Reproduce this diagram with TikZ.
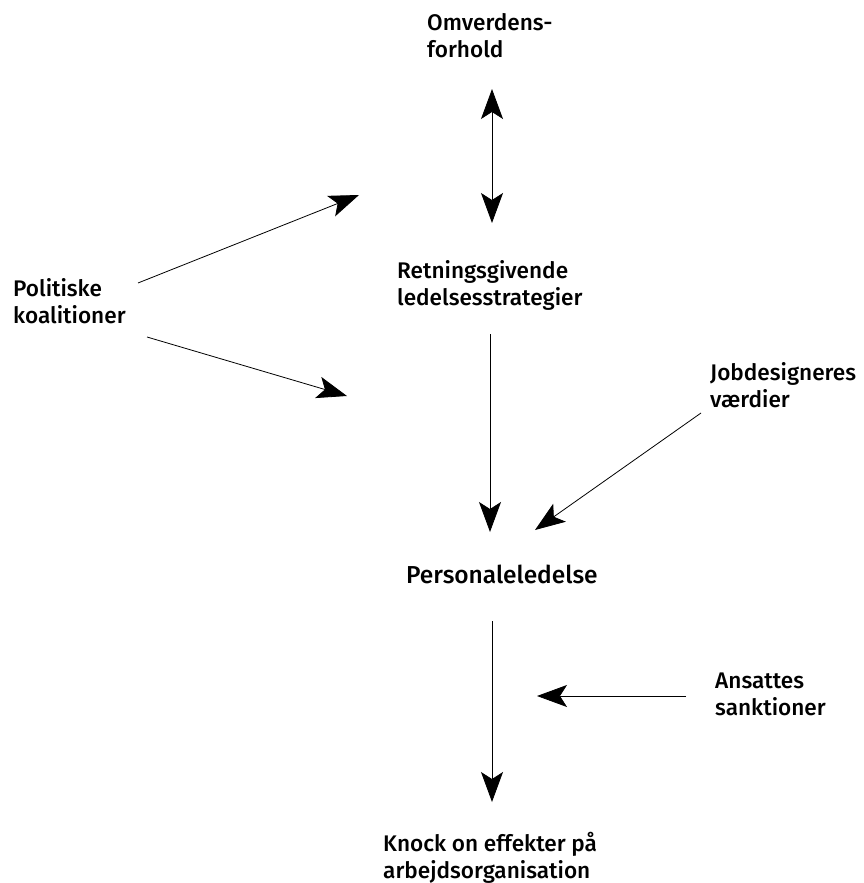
\documentclass[tikz,border=0pt]{standalone}
\usepackage{fontspec}
\setmainfont{Fira Sans}[BoldFont={* Medium}]
\usetikzlibrary{arrows.meta}
\tikzset{
  lbl/.style={anchor=base west, inner sep=0pt, align=left,
    font=\fontsize{22.6}{27}\selectfont\bfseries},
  biglbl/.style={lbl, font=\fontsize{24.5}{28}\selectfont\bfseries},
  conn/.style={draw=black, line width=0.8pt,
    -{Stealth[length=30pt, width=22pt, inset=7pt]}},
  conn2/.style={conn,
    {Stealth[length=30pt, width=22pt, inset=7pt]}-{Stealth[length=30pt, width=22pt, inset=7pt]}},
}
\begin{document}
\begin{tikzpicture}[x=1pt, y=1pt]
  \useasboundingbox (0,0) rectangle (863,-883);
  % labels (anchored at the baseline of their last line)
  \node[lbl] (omv) at (427,-58) {Omverdens-\\forhold};
  \node[lbl] (ret) at (397,-305) {Retningsgivende\\ledelsesstrategier};
  \node[lbl] (pol) at (13,-323) {Politiske\\koalitioner};
  \node[lbl] (job) at (710,-407) {Jobdesigneres\\værdier};
  \node[biglbl] (per) at (406,-583) {Personaleledelse};
  \node[lbl] (ans) at (715,-715) {Ansattes\\sanktioner};
  \node[lbl] (kno) at (383,-878) {Knock on effekter på\\arbejdsorganisation};
  % connector end points
  \coordinate (omvA) at (492,-89);
  \coordinate (retA) at (492,-223);
  \coordinate (polU) at (138,-283);
  \coordinate (polUt) at (359,-195);
  \coordinate (polL) at (147,-337);
  \coordinate (polLt) at (347,-396);
  \coordinate (retB) at (490,-334);
  \coordinate (perT) at (490,-532);
  \coordinate (jobB) at (701,-413);
  \coordinate (perR) at (535,-530);
  \coordinate (perB) at (492,-621);
  \coordinate (knoT) at (492,-802);
  \coordinate (ansL) at (686,-696);
  \coordinate (midT) at (537,-696);
  % connectors
  \draw[conn2] (omvA) -- (retA);
  \draw[conn] (polU) -- (polUt);
  \draw[conn] (polL) -- (polLt);
  \draw[conn] (retB) -- (perT);
  \draw[conn] (jobB) -- (perR);
  \draw[conn] (perB) -- (knoT);
  \draw[conn] (ansL) -- (midT);
\end{tikzpicture}
\end{document}
